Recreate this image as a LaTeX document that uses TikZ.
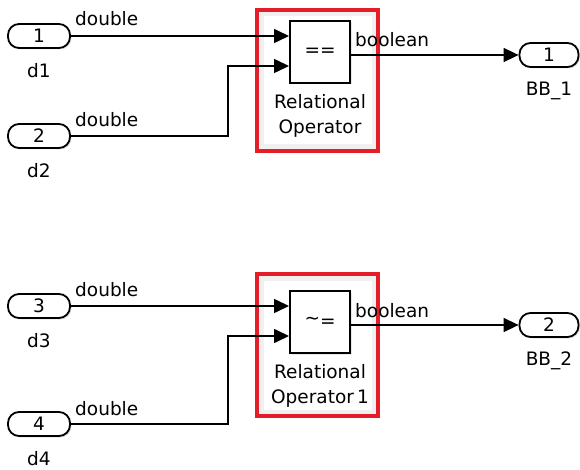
\documentclass[tikz,border=0pt]{standalone}
\usepackage{fontspec}
\setmainfont{DejaVu Sans}
\usepackage{tikz}
\usetikzlibrary{arrows.meta, positioning, shadows}
\definecolor{hired}{RGB}{228,30,38}

\begin{document}
\begin{tikzpicture}[
  x=1pt, y=-1pt,
  font=\fontsize{18.5}{25}\selectfont,
  port/.style   = {draw=black, fill=white, rounded corners=11pt, line width=1.8pt,
                   minimum width=62pt, minimum height=24pt, inner sep=0pt,
                   drop shadow={shadow xshift=1.5pt, shadow yshift=-1.5pt, fill=black!22}},
  opbox/.style  = {draw=black, fill=white, line width=2pt, inner sep=0pt,
                   minimum width=60pt, minimum height=62pt,
                   drop shadow={shadow xshift=1.5pt, shadow yshift=-1.5pt, fill=black!18}},
  hilite/.style = {draw=hired, line width=3.2pt},
  halo/.style   = {draw=black!6, line width=5pt},
  sig/.style    = {-{Triangle[length=15pt, width=14pt]}, line width=1.6pt},
  txt/.style    = {inner sep=0pt},
]
\useasboundingbox (0,0) rectangle (580,470);

\foreach \row/\dy/\db/\bt/\bb/\ia/\ib/\sym/\nm in
  {1/0/0/10/151/1/2/{==}/{}, 2/270/18/274/416/3/4/{\raisebox{3pt}{\textasciitilde}=}/{\,1}}{
  % highlight round the operator
  \draw[halo]   (261,\bt+4) rectangle (374,\bb-4);
  \draw[hilite] (257,\bt) rectangle (378,\bb);

  % inports
  \node[port] (in\ia) at (39, 36+\dy) {\ia};
  \node[txt, below=14pt of in\ia] (d\ia) {d\ia};
  \node[port] (in\ib) at (39, 136+\dy+\db) {\ib};
  \node[txt, below=14pt of in\ib] (d\ib) {d\ib};

  % operator block
  \node[opbox] (op\row) at (320, 52+\dy) {\sym};
  \node[txt, below=10pt of op\row, align=center] (opname\row) {Relational\\Operator\nm};

  % outport
  \node[port, minimum width=59pt] (out\row) at (549, 55+\dy) {\row};
  \node[txt, below=14pt of out\row] (bb\row) {BB\_\row};

  % signals
  \draw[sig] (in\ia.east) -- (in\ia.east -| op\row.west) coordinate (pa\row);
  \draw[sig] (in\ib.east) -| (228, 66+\dy) coordinate (kn\row) -- (kn\row -| op\row.west);
  \draw[sig] (op\row.east |- out\row.west) -- (out\row.west);

  % signal types
  \node[txt, anchor=base west] (ta\row) at (75, 26+\dy) {double};
  \node[txt, anchor=base west] (tb\row) at (75, 127+\dy+\db) {double};
  \node[txt, anchor=base west] (tc\row) at (355, 47+\dy) {boolean};
}

\end{tikzpicture}
\end{document}
